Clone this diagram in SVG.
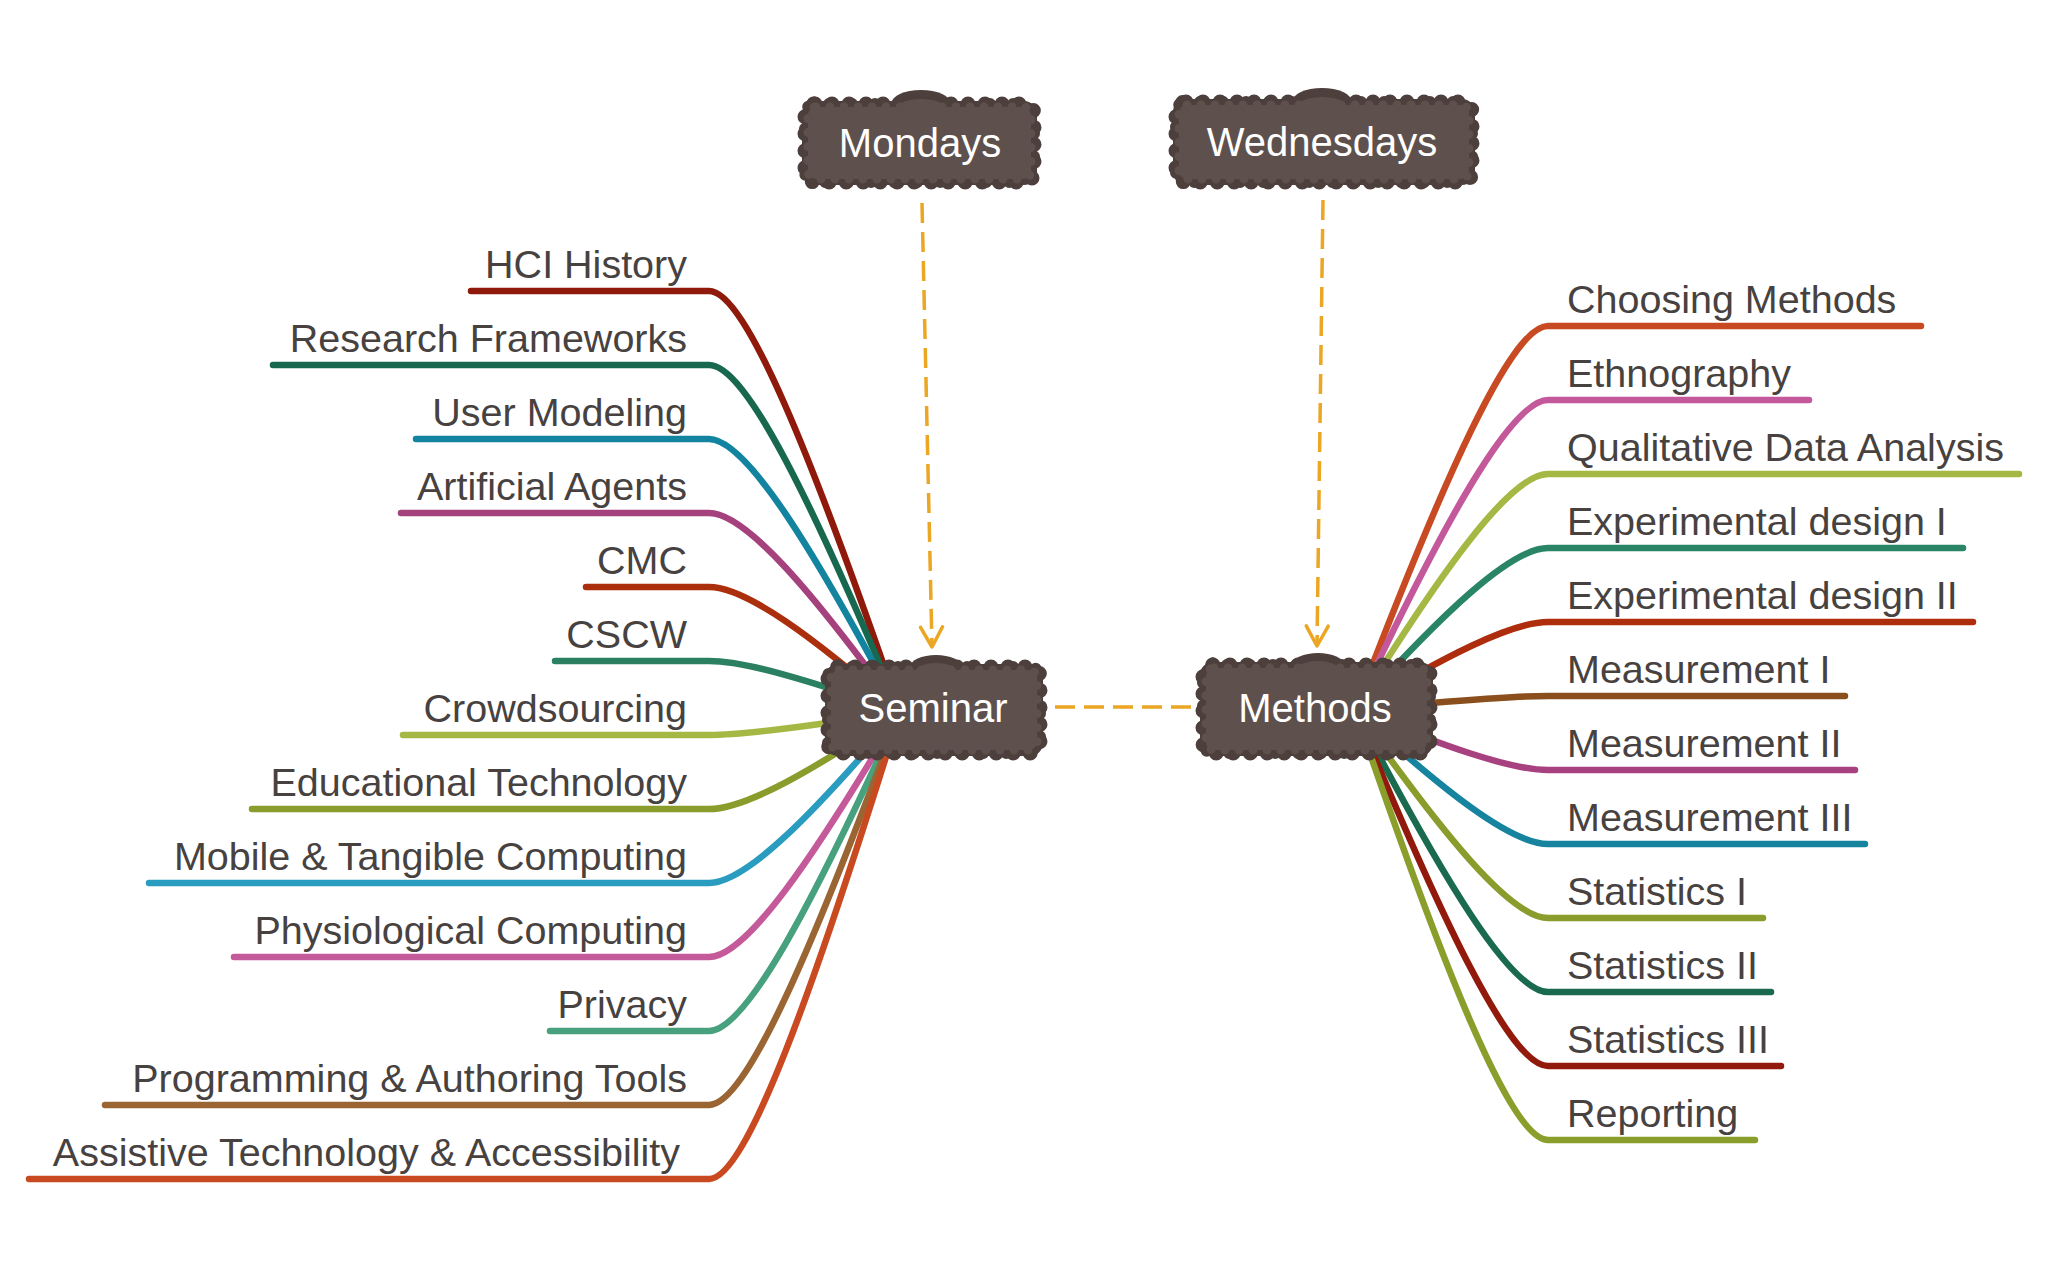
<svg xmlns="http://www.w3.org/2000/svg" width="2048" height="1266" viewBox="0 0 2048 1266">
<defs>
<style>
.br{fill:none;stroke-width:6.5;stroke-linecap:round;stroke-linejoin:round}
.lbl{font-family:"Liberation Sans",Arial,sans-serif;font-size:39.5px;fill:#47423f}
.l{text-anchor:end}
.ntx{font-family:"Liberation Sans",Arial,sans-serif;font-size:40px;fill:#ffffff;text-anchor:middle}
.dash{fill:none;stroke:#eba624;stroke-width:3.5;stroke-dasharray:20 9}
.ob{fill:#4d3f3c;stroke:#4d3f3c;stroke-width:6}
.od{fill:none;stroke:#4d3f3c;stroke-width:15;stroke-dasharray:0 17;stroke-linecap:round}
.od2{fill:none;stroke:#4d3f3c;stroke-width:12;stroke-dasharray:0 23;stroke-dashoffset:9;stroke-linecap:round}
.ib{fill:#5e504d}
.id{fill:none;stroke:#5e504d;stroke-width:9;stroke-dasharray:0 14;stroke-linecap:round}
.bump{fill:#4d3f3c}
.ibump{fill:#5e504d}
</style>
<marker id="arr" markerUnits="userSpaceOnUse" markerWidth="40" markerHeight="40" viewBox="-30 -20 40 40" refX="0" refY="0" orient="auto">
<path d="M-20,-11 L0,0 L-20,11" fill="none" stroke="#eba624" stroke-width="3.5" stroke-linecap="round" stroke-linejoin="round"/>
</marker>
</defs>
<rect width="2048" height="1266" fill="#ffffff"/>

<g id="connectors">
<path class="dash" d="M922,203 L932,647" marker-end="url(#arr)"/>
<path class="dash" d="M1323,200 L1317,646" marker-end="url(#arr)"/>
<path class="dash" d="M1055,707 L1193,707"/>

<path class="br" stroke="#8f1a0c" d="M900,712 C813,459.4 746,291 709,291 H471"/>
<path class="br" stroke="#17684e" d="M900,712 C813,503.8 746,365 709,365 H273"/>
<path class="br" stroke="#13849f" d="M900,712 C813,548.2 746,439 709,439 H416"/>
<path class="br" stroke="#a5417c" d="M900,712 C813,592.6 746,513 709,513 H401"/>
<path class="br" stroke="#ab2f0c" d="M900,712 C813,637 746,587 709,587 H586"/>
<path class="br" stroke="#2c8062" d="M900,712 C813,681.4 746,661 709,661 H555"/>
<path class="br" stroke="#a5b844" d="M900,712 C813,725.8 746,735 709,735 H403"/>
<path class="br" stroke="#8a9c2b" d="M900,712 C813,770.2 746,809 709,809 H252"/>
<path class="br" stroke="#2a9cc0" d="M900,712 C813,814.6 746,883 709,883 H149"/>
<path class="br" stroke="#c55a9a" d="M900,712 C813,859 746,957 709,957 H234"/>
<path class="br" stroke="#47a07e" d="M900,712 C813,903.4 746,1031 709,1031 H550"/>
<path class="br" stroke="#9a6533" d="M900,712 C813,947.8 746,1105 709,1105 H105"/>
<path class="br" stroke="#c94a20" d="M900,712 C813,992.2 746,1179 709,1179 H29"/>

<path class="br" stroke="#c84a22" d="M1355,710 C1443,479.6 1511,326 1548,326 H1921"/>
<path class="br" stroke="#c3589a" d="M1355,710 C1443,524 1511,400 1548,400 H1809"/>
<path class="br" stroke="#a5b844" d="M1355,710 C1443,568.4 1511,474 1548,474 H2019"/>
<path class="br" stroke="#2a8566" d="M1355,710 C1443,612.8 1511,548 1548,548 H1963"/>
<path class="br" stroke="#ae2d0c" d="M1355,710 C1443,657.2 1511,622 1548,622 H1973"/>
<path class="br" stroke="#8a4f1c" d="M1355,710 C1443,701.6 1511,696 1548,696 H1845"/>
<path class="br" stroke="#a8417f" d="M1355,710 C1443,746 1511,770 1548,770 H1855"/>
<path class="br" stroke="#17849f" d="M1355,710 C1443,790.4 1511,844 1548,844 H1865"/>
<path class="br" stroke="#8a9c2b" d="M1355,710 C1443,834.8 1511,918 1548,918 H1763"/>
<path class="br" stroke="#196a4e" d="M1355,710 C1443,879.2 1511,992 1548,992 H1771"/>
<path class="br" stroke="#921a0c" d="M1355,710 C1443,923.6 1511,1066 1548,1066 H1781"/>
<path class="br" stroke="#8a9f2b" d="M1355,710 C1443,968 1511,1140 1548,1140 H1755"/>
</g>

<g id="node-mondays">
<ellipse class="bump" cx="921" cy="104" rx="30" ry="14"/>
<rect class="ob" x="805" y="104" width="229" height="78" rx="10"/>
<rect class="od" x="805" y="104" width="229" height="78" rx="10"/>
<rect class="od2" x="805" y="104" width="229" height="78" rx="10"/>
<ellipse class="ibump" cx="921" cy="108" rx="24" ry="9"/>
<rect class="ib" x="808" y="107" width="223" height="72" rx="8"/>
<rect class="id" x="808" y="107" width="223" height="72" rx="8"/>
<text class="ntx" x="920" y="157">Mondays</text>
</g>

<g id="node-wednesdays">
<ellipse class="bump" cx="1322" cy="102" rx="30" ry="14"/>
<rect class="ob" x="1176" y="102" width="296" height="80" rx="10"/>
<rect class="od" x="1176" y="102" width="296" height="80" rx="10"/>
<rect class="od2" x="1176" y="102" width="296" height="80" rx="10"/>
<ellipse class="ibump" cx="1322" cy="106" rx="24" ry="9"/>
<rect class="ib" x="1179" y="105" width="290" height="74" rx="8"/>
<rect class="id" x="1179" y="105" width="290" height="74" rx="8"/>
<text class="ntx" x="1322" y="156">Wednesdays</text>
</g>

<g id="node-seminar">
<ellipse class="bump" cx="936" cy="667" rx="26" ry="12"/>
<rect class="ob" x="828" y="667" width="212" height="86" rx="10"/>
<rect class="od" x="828" y="667" width="212" height="86" rx="10"/>
<rect class="od2" x="828" y="667" width="212" height="86" rx="10"/>
<ellipse class="ibump" cx="936" cy="671" rx="20" ry="8"/>
<rect class="ib" x="831" y="670" width="206" height="80" rx="8"/>
<rect class="id" x="831" y="670" width="206" height="80" rx="8"/>
<text class="ntx" x="933" y="722">Seminar</text>
</g>

<g id="node-methods">
<ellipse class="bump" cx="1318" cy="665" rx="26" ry="12"/>
<rect class="ob" x="1203" y="665" width="227" height="88" rx="10"/>
<rect class="od" x="1203" y="665" width="227" height="88" rx="10"/>
<rect class="od2" x="1203" y="665" width="227" height="88" rx="10"/>
<ellipse class="ibump" cx="1318" cy="669" rx="20" ry="8"/>
<rect class="ib" x="1206" y="668" width="221" height="82" rx="8"/>
<rect class="id" x="1206" y="668" width="221" height="82" rx="8"/>
<text class="ntx" x="1315" y="722">Methods</text>
</g>

<g id="labels-seminar">
<text class="lbl l" x="687" y="278">HCI History</text>
<text class="lbl l" x="687" y="352">Research Frameworks</text>
<text class="lbl l" x="687" y="426">User Modeling</text>
<text class="lbl l" x="687" y="500">Artificial Agents</text>
<text class="lbl l" x="687" y="574">CMC</text>
<text class="lbl l" x="687" y="648">CSCW</text>
<text class="lbl l" x="687" y="722">Crowdsourcing</text>
<text class="lbl l" x="687" y="796">Educational Technology</text>
<text class="lbl l" x="687" y="870">Mobile &amp; Tangible Computing</text>
<text class="lbl l" x="687" y="944">Physiological Computing</text>
<text class="lbl l" x="687" y="1018">Privacy</text>
<text class="lbl l" x="687" y="1092">Programming &amp; Authoring Tools</text>
<text class="lbl l" x="680" y="1166">Assistive Technology &amp; Accessibility</text>
</g>

<g id="labels-methods">
<text class="lbl" x="1567" y="313">Choosing Methods</text>
<text class="lbl" x="1567" y="387">Ethnography</text>
<text class="lbl" x="1567" y="461">Qualitative Data Analysis</text>
<text class="lbl" x="1567" y="535">Experimental design I</text>
<text class="lbl" x="1567" y="609">Experimental design II</text>
<text class="lbl" x="1567" y="683">Measurement I</text>
<text class="lbl" x="1567" y="757">Measurement II</text>
<text class="lbl" x="1567" y="831">Measurement III</text>
<text class="lbl" x="1567" y="905">Statistics I</text>
<text class="lbl" x="1567" y="979">Statistics II</text>
<text class="lbl" x="1567" y="1053">Statistics III</text>
<text class="lbl" x="1567" y="1127">Reporting</text>
</g>
</svg>
